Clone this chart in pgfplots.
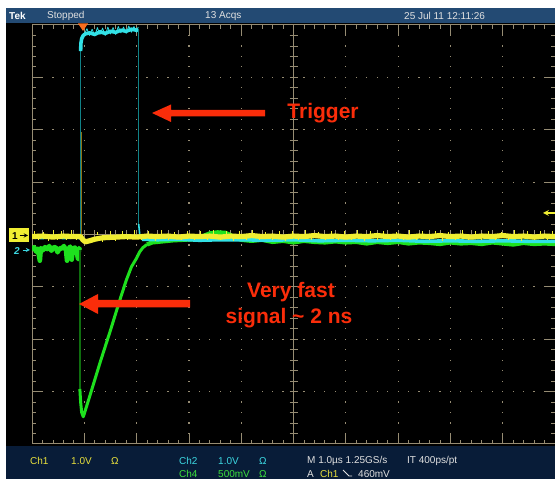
\documentclass[border=0pt]{standalone}
\usepackage{fontspec}
\setmainfont{Liberation Sans}
\usepackage{pgfplots}
\pgfplotsset{compat=1.18}
\definecolor{scrblue}{RGB}{35,74,115}
\definecolor{scrnavy}{RGB}{8,28,56}
\definecolor{grat}{RGB}{150,140,115}
\definecolor{chy}{RGB}{240,238,50}
\definecolor{chyd}{RGB}{140,115,20}
\definecolor{chc}{RGB}{50,225,230}
\definecolor{chcd}{RGB}{16,130,135}
\definecolor{chg}{RGB}{30,225,30}
\definecolor{chgd}{RGB}{15,110,15}
\definecolor{annred}{RGB}{250,45,10}
\definecolor{trigor}{RGB}{250,110,30}
\definecolor{bartext}{RGB}{225,225,225}
\definecolor{ty}{RGB}{232,224,60}
\definecolor{tc}{RGB}{60,215,225}
\definecolor{tg}{RGB}{60,225,60}
\begin{document}
\begin{tikzpicture}
\useasboundingbox (0pt,0pt) rectangle (555pt,485pt);
% ---------- screen background and graticule (pixel coordinates) ----------
\begin{scope}[x=1pt,y=-1pt,yshift=485pt]
\fill[white] (0,0) rectangle (555,485);
\fill[black] (6,8) rectangle (555,479);
\fill[scrblue] (6,8) rectangle (555,23.5);
\fill[scrnavy] (6,446.5) rectangle (555,479);
% dotted major grid lines
\foreach \k in {1,2,3,4,6,7,8,9}{
  \foreach \m in {1,...,39}{
    \fill[grat] ({32+52.3*\k-0.6},{25+10.475*\m-0.6}) rectangle ++(1.2,1.2);
  }
}
\foreach \j in {1,2,3,5,6,7}{
  \foreach \m in {1,...,49}{
    \fill[grat] ({32+10.46*\m-0.6},{25+52.375*\j-0.6}) rectangle ++(1.2,1.2);
  }
}
% centre cross
\draw[grat,line width=1] (293.5,25) -- (293.5,444);
\draw[grat,line width=1] (32,234.5) -- (555,234.5);
\foreach \m in {1,...,39}{
  \draw[grat,line width=0.8] (289.5,{25+10.475*\m}) -- (297.5,{25+10.475*\m});
  \draw[grat,line width=0.8] (32,{25+10.475*\m}) -- (36,{25+10.475*\m});
  \draw[grat,line width=0.8] (555,{25+10.475*\m}) -- (551,{25+10.475*\m});
}
\foreach \m in {1,...,49}{
  \draw[grat,line width=0.8] ({32+10.46*\m},230.5) -- ({32+10.46*\m},238.5);
  \draw[grat,line width=0.8] ({32+10.46*\m},25) -- ({32+10.46*\m},29);
  \draw[grat,line width=0.8] ({32+10.46*\m},444) -- ({32+10.46*\m},440);
}
\foreach \m in {1,...,7}{
  \draw[grat,line width=0.8] (32,{25+52.375*\m}) -- (42,{25+52.375*\m});
  \draw[grat,line width=0.8] (555,{25+52.375*\m}) -- (545,{25+52.375*\m});
}
\foreach \m in {1,...,9}{
  \draw[grat,line width=0.8] ({32+52.3*\m},25) -- ({32+52.3*\m},35);
  \draw[grat,line width=0.8] ({32+52.3*\m},444) -- ({32+52.3*\m},434);
}
\draw[grat,line width=1] (32,25) -- (555,25);
\draw[grat,line width=1] (32,444) -- (555,444);
\draw[grat,line width=1] (32,25) -- (32,444);
\end{scope}
% ---------- traces ----------
\begin{axis}[at={(32pt,41pt)}, anchor=south west, scale only axis,
  width=523pt, height=419pt, xmin=0, xmax=10, ymin=-4, ymax=4,
  hide axis, clip=true]
% Ch4 (green)
\addplot[chg, line width=4.6pt, line join=round] coordinates {
(0,-0.3)(0.04,-0.24)(0.08,-0.33)(0.11,-0.27)(0.15,-0.5)(0.17,-0.26)(0.21,-0.3)(0.25,-0.24)(0.29,-0.28)(0.33,-0.22)(0.37,-0.31)(0.41,-0.25)(0.45,-0.24)(0.49,-0.34)(0.53,-0.26)(0.57,-0.27)(0.61,-0.22)(0.65,-0.3)(0.67,-0.5)(0.7,-0.27)(0.73,-0.23)(0.76,-0.48)(0.78,-0.27)(0.82,-0.25)(0.85,-0.3)(0.88,-0.47)(0.9,-0.26)(0.915,-0.3)};
\addplot[chgd, line width=1.3pt] coordinates {(0.915,-0.3)(0.915,-2.95)};
\addplot[chg, line width=3pt, line join=round] coordinates {
(0.915,-2.95)(0.93,-3.2)(0.95,-3.4)(0.98,-3.48)(1.0,-3.42)(1.1,-3.1)(1.3,-2.45)(1.5,-1.83)(1.68,-1.25)(1.8,-0.88)(1.9,-0.62)(2.0,-0.45)(2.06,-0.33)(2.12,-0.25)(2.2,-0.19)};
\addplot[chg, line width=4.4pt, line join=round] coordinates {
(2.2,-0.19)(2.3,-0.15)(2.5,-0.13)(2.7,-0.11)(2.9,-0.1)(3.1,-0.09)(3.25,-0.04)(3.4,0.02)(3.55,0.04)(3.7,0.03)(3.85,-0.04)(4.0,-0.1)(4.2,-0.12)(4.4,-0.1)(4.6,-0.14)(4.8,-0.12)(5.0,-0.15)(5.2,-0.12)(5.4,-0.14)(5.6,-0.15)(5.8,-0.13)(6.0,-0.15)(6.2,-0.14)(6.4,-0.17)(6.6,-0.14)(6.8,-0.16)(7.0,-0.14)(7.2,-0.17)(7.4,-0.15)(7.6,-0.16)(7.8,-0.18)(8.0,-0.15)(8.2,-0.17)(8.4,-0.16)(8.6,-0.18)(8.8,-0.15)(9.0,-0.17)(9.2,-0.19)(9.4,-0.16)(9.6,-0.18)(9.8,-0.17)(10,-0.18)};
% Ch2 (cyan)
\addplot[chc, line width=3.5pt, line join=round] coordinates {
(0,-0.05)(0.2,-0.06)(0.4,-0.04)(0.6,-0.06)(0.8,-0.05)(0.93,-0.06)};
\addplot[chcd, line width=1.3pt] coordinates {(0.93,-0.06)(0.93,3.5)};
\addplot[chc, line width=3.6pt, line join=round] coordinates {
(0.93,3.5)(0.935,3.65)(0.95,3.74)(0.98,3.8)(1.02,3.83)(1.1,3.85)(1.2,3.82)(1.3,3.87)(1.4,3.84)(1.5,3.88)(1.6,3.86)(1.7,3.9)(1.8,3.88)(1.9,3.92)(2.0,3.9)(2.03,3.92)};
\addplot[chc, line width=0.8pt, line join=round] coordinates {
(1.0,3.82)(1.05,3.93)(1.1,3.8)(1.15,3.92)(1.2,3.79)(1.25,3.95)(1.3,3.82)(1.35,3.94)(1.4,3.8)(1.45,3.96)(1.5,3.83)(1.55,3.95)(1.6,3.82)(1.65,3.97)(1.7,3.85)(1.75,3.96)(1.8,3.84)(1.85,3.98)(1.9,3.86)(1.95,3.97)(2.0,3.86)(2.03,3.96)};
\addplot[chcd, line width=1.3pt] coordinates {(2.04,3.92)(2.04,0.18)};
\addplot[chc, line width=1.6pt] coordinates {(2.04,0.2)(2.06,0.0)(2.1,-0.09)};
\addplot[chc, line width=3.6pt, line join=round] coordinates {
(2.1,-0.09)(2.4,-0.1)(2.8,-0.09)(3.2,-0.11)(3.6,-0.1)(4.0,-0.1)(4.5,-0.11)(5.0,-0.1)(5.5,-0.12)(6.0,-0.11)(6.5,-0.12)(7.0,-0.11)(7.5,-0.13)(8.0,-0.12)(8.5,-0.13)(9.0,-0.12)(9.5,-0.13)(10,-0.13)};
% Ch1 (yellow)
\addplot[chyd, line width=1.3pt] coordinates {(0.948,-0.04)(0.948,1.96)};
\addplot[chy, line width=5.2pt, line join=round] coordinates {
(0,-0.04)(0.2,-0.03)(0.4,-0.05)(0.6,-0.03)(0.8,-0.04)(0.93,-0.04)(0.97,-0.1)(1.02,-0.14)(1.1,-0.12)(1.2,-0.09)(1.3,-0.07)(1.4,-0.06)(1.6,-0.05)(1.8,-0.04)(2.0,-0.05)(2.2,-0.03)(2.4,-0.04)(2.6,-0.03)(2.8,-0.05)(3.0,-0.03)(3.2,-0.04)(3.4,-0.03)(3.6,-0.05)(3.8,-0.03)(4.0,-0.04)(4.2,-0.02)(4.4,-0.04)(4.6,-0.03)(4.8,-0.05)(5.0,-0.03)(5.2,-0.04)(5.4,-0.02)(5.6,-0.04)(5.8,-0.03)(6.0,-0.05)(6.2,-0.03)(6.4,-0.04)(6.6,-0.02)(6.8,-0.04)(7.0,-0.03)(7.2,-0.05)(7.4,-0.03)(7.6,-0.04)(7.8,-0.02)(8.0,-0.04)(8.2,-0.03)(8.4,-0.05)(8.6,-0.03)(8.8,-0.04)(9.0,-0.02)(9.2,-0.04)(9.4,-0.03)(9.6,-0.05)(9.8,-0.03)(10,-0.04)};
\addplot[chy, ycomb, line width=0.7pt] coordinates {
(0.05,0.07)(0.13,-0.11)(0.22,0.05)(0.31,-0.12)(0.4,0.08)(0.48,-0.1)(0.57,0.06)(0.66,-0.11)(0.75,0.09)(0.84,-0.1)
(1.25,0.05)(1.35,-0.14)(1.5,0.06)(1.6,-0.12)(1.72,0.07)(1.83,-0.11)(1.95,0.08)(2.1,-0.1)(2.22,0.06)(2.35,-0.12)
(2.47,0.08)(2.6,-0.1)(2.72,0.05)(2.85,-0.11)(2.97,0.07)(3.1,-0.1)(3.22,0.06)(3.35,-0.11)(3.47,0.08)(3.6,-0.1)
(3.72,0.06)(3.85,-0.12)(3.97,0.07)(4.1,-0.1)(4.22,0.08)(4.35,-0.11)(4.47,0.05)(4.6,-0.1)(4.72,0.07)(4.85,-0.12)
(4.97,0.06)(5.1,-0.1)(5.22,0.08)(5.35,-0.11)(5.47,0.05)(5.6,-0.1)(5.72,0.07)(5.85,-0.11)(5.97,0.06)(6.1,-0.1)
(6.22,0.08)(6.35,-0.12)(6.47,0.06)(6.6,-0.1)(6.72,0.07)(6.85,-0.11)(6.97,0.05)(7.1,-0.1)(7.22,0.08)(7.35,-0.11)
(7.47,0.06)(7.6,-0.1)(7.72,0.07)(7.85,-0.12)(7.97,0.05)(8.1,-0.1)(8.22,0.08)(8.35,-0.11)(8.47,0.06)(8.6,-0.1)
(8.72,0.07)(8.85,-0.11)(8.97,0.05)(9.1,-0.1)(9.22,0.08)(9.35,-0.12)(9.47,0.06)(9.6,-0.1)(9.72,0.07)(9.85,-0.11)(9.95,0.06)};
\end{axis}
% ---------- overlays (pixel coordinates) ----------
\begin{scope}[x=1pt,y=-1pt,yshift=485pt]
% trigger position marker
\fill[trigor] (78,23.5) -- (88,23.5) -- (83,31) -- cycle;
% trigger level marker
\draw[chy,line width=1.6,->,>=stealth] (555,213) -- (543,213);
% ground markers
\fill[chy] (9,228.5) rectangle (29,242.5);
\node[black,font=\fontsize{10}{12}\selectfont\bfseries,inner sep=0] at (15,235.8) {1};
\draw[black,line width=0.9,->,>=stealth] (19.5,235.5) -- (28,235.5);
\node[tc,font=\fontsize{10}{12}\selectfont\bfseries\itshape,inner sep=0] at (17,251) {2};
\draw[tc,line width=0.9,->,>=stealth] (22.5,250) -- (30,250);
% top bar text
\begin{scope}[every node/.style={anchor=west,inner sep=0,font=\fontsize{10}{12}\selectfont,text=bartext}]
\node[font=\fontsize{10}{12}\selectfont\bfseries,text=white] at (9,16) {Tek};
\node at (47,16) {Stopped};
\node at (205,16) {13 Acqs};
\node at (404,16) {25 Jul 11 12:11:26};
% bottom bar text
\node[text=ty] at (30,461) {Ch1};
\node[text=ty] at (71,461) {1.0V};
\node[text=ty] at (111,461) {Ω};
\node[text=tc] at (179,461) {Ch2};
\node[text=tc] at (218,461) {1.0V};
\node[text=tc] at (259,461) {Ω};
\node[text=tg] at (179,474) {Ch4};
\node[text=tg] at (218,474) {500mV};
\node[text=tg] at (259,474) {Ω};
\node at (307,461) {M 1.0µs 1.25GS/s};
\node at (407,461) {IT 400ps/pt};
\node at (307,474) {A};
\node[text=ty] at (320,474) {Ch1};
\node at (358,474) {460mV};
\end{scope}
\draw[bartext,line width=0.8] (343,470) -- (349,476) -- (352,476);
% annotations
\fill[annred] (152,113) -- (171,104.5) -- (171,110) -- (265,110) -- (265,116.5) -- (171,116.5) -- (171,122) -- cycle;
\fill[annred] (79,304) -- (98,294) -- (98,300) -- (190,300) -- (190,307.5) -- (98,307.5) -- (98,314) -- cycle;
\begin{scope}[every node/.style={inner sep=0,text=annred,font=\fontsize{21}{25}\selectfont\bfseries}]
\node at (323,113) {Trigger};
\node at (291,292) {Very fast};
\node at (289,318) {signal \textasciitilde{} 2 ns};
\end{scope}
\end{scope}
\end{tikzpicture}
\end{document}
